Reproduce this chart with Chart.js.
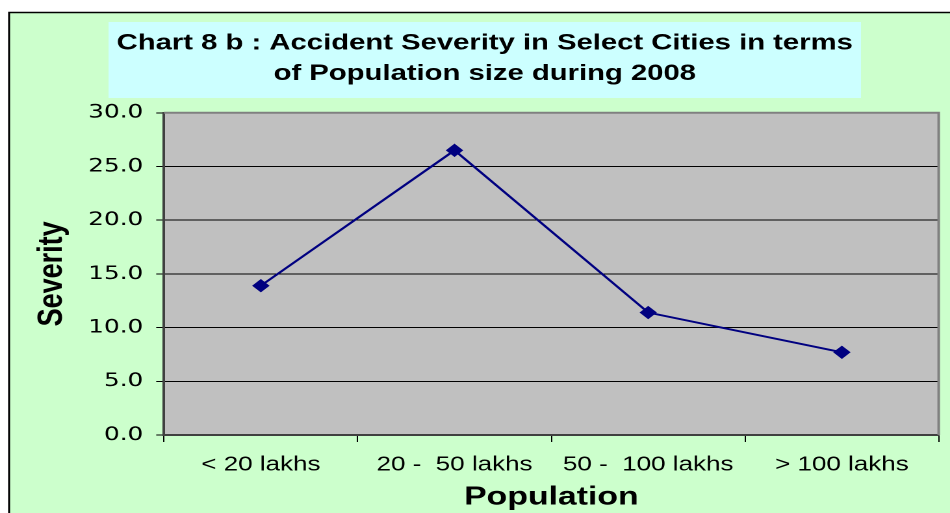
<!DOCTYPE html>
<html>
<head>
<meta charset="utf-8">
<script src="https://cdn.jsdelivr.net/npm/chart.js@4.4.1/dist/chart.umd.min.js"></script>
<style>
  html, body { margin: 0; padding: 0; background: #fff; overflow: hidden; }
  /* the original picture is stretched sideways, so the canvas is too */
  #chart { display: block; width: 731px; height: 513px; transform: scaleX(1.2996); transform-origin: 0 0; }
</style>
</head>
<body>
<canvas id="chart" width="731" height="513"></canvas>
<script>
const categories = ['< 20 lakhs', '20 -  50 lakhs', '50 -  100 lakhs', '> 100 lakhs'];
const severity = [13.9, 26.5, 11.4, 7.7];
const titleLines = ['Chart 8 b : Accident Severity in Select Cities in terms', 'of Population size during 2008'];

// backgrounds: outer frame, title box, grey plot area
const backdrop = {
    id: 'backdrop',
    beforeDraw(chart) {
        const {ctx, width, height, chartArea: a} = chart;
        ctx.save();
        ctx.fillStyle = '#ffffff';
        ctx.fillRect(0, 0, width, height);
        ctx.fillStyle = '#CCFFCC';
        ctx.fillRect(7, 12, width, height);
        ctx.strokeStyle = '#000';
        ctx.lineWidth = 1.5;
        ctx.beginPath();
        ctx.moveTo(7, height);
        ctx.lineTo(7, 12.5);
        ctx.lineTo(width, 12.5);
        ctx.stroke();
        ctx.fillStyle = '#CCFFFF';
        ctx.fillRect(83.5, 22, 579, 76);
        ctx.fillStyle = '#C0C0C0';
        ctx.fillRect(a.left, a.top, a.right - a.left, a.bottom - a.top);
        ctx.restore();
    },
    beforeDatasetsDraw(chart) {
        const {ctx, chartArea: a} = chart;
        ctx.save();
        ctx.strokeStyle = '#808080';
        ctx.lineWidth = 2;
        ctx.beginPath();
        ctx.moveTo(a.left, a.top);
        ctx.lineTo(a.right, a.top);
        ctx.lineTo(a.right, a.bottom);
        ctx.stroke();
        ctx.restore();
    }
};

new Chart(document.getElementById('chart'), {
    type: 'line',
    data: {
        labels: categories,
        datasets: [{
            label: 'Severity',
            data: severity,
            borderColor: '#000080',
            backgroundColor: '#000080',
            borderWidth: 2,
            pointStyle: 'rectRot',
            pointRadius: 6,
            pointBorderWidth: 1,
            fill: false,
            tension: 0
        }]
    },
    options: {
        responsive: false,
        animation: false,
        devicePixelRatio: 2,
        layout: { padding: { left: 23.7, right: 8.7, top: 0, bottom: 0 } },
        plugins: {
            legend: { display: false },
            tooltip: { enabled: false },
            title: {
                display: true,
                text: titleLines,
                color: '#000',
                font: { family: "'Liberation Sans', Arial, sans-serif", size: 22.5, weight: 'bold', lineHeight: 1.35 },
                padding: { top: 28, bottom: 24 }
            }
        },
        scales: {
            x: {
                offset: true,
                afterFit(axis) { axis.height = 78; },
                grid: {
                    offset: true,
                    drawOnChartArea: false,
                    tickLength: 7,
                    tickColor: '#000'
                },
                border: { color: '#404040', width: 2 },
                ticks: {
                    color: '#000',
                    padding: 11,
                    maxRotation: 0,
                    autoSkip: false,
                    font: { family: "'Liberation Sans', Arial, sans-serif", size: 20 }
                },
                title: {
                    display: true,
                    text: 'Population',
                    color: '#000',
                    padding: 0,
                    font: { family: "'Liberation Sans', Arial, sans-serif", size: 26, weight: 'bold' }
                }
            },
            y: {
                min: 0,
                max: 30,
                afterFit(axis) { axis.width = 102.5; },
                grid: {
                    color: '#000',
                    lineWidth: 1,
                    tickLength: 6,
                    tickColor: '#000'
                },
                border: { color: '#404040', width: 2 },
                ticks: {
                    stepSize: 5,
                    color: '#000',
                    padding: 10,
                    font: { family: "'DejaVu Sans', Verdana, sans-serif", size: 19 },
                    callback: v => v.toFixed(1)
                },
                title: {
                    display: true,
                    text: 'Severity',
                    color: '#000',
                    padding: 0,
                    font: { family: "'Liberation Sans', Arial, sans-serif", size: 27, weight: 'bold' }
                }
            }
        }
    },
    plugins: [backdrop]
});
</script>
</body>
</html>
